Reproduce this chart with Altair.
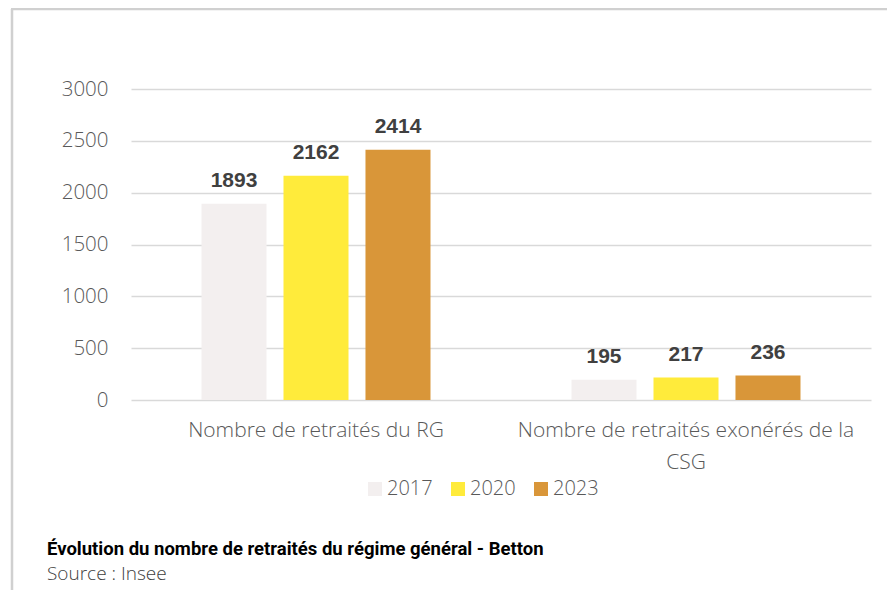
import altair as alt
import pandas as pd

categories = ["Nombre de retraités du RG", "Nombre de retraités exonérés de la CSG"]
years = ["2017", "2020", "2023"]
values_2017 = [1893, 195]
values_2020 = [2162, 217]
values_2023 = [2414, 236]
colors = ["#F3EFEF", "#FFEB3B", "#D99639"]
y_ticks = [0, 500, 1000, 1500, 2000, 2500, 3000]
title_text = ["Évolution du nombre de retraités du régime général - Betton"]
source_text = ["Source : Insee"]

rows = []
for yr, vals in zip(years, [values_2017, values_2020, values_2023]):
    for c, v in zip(categories, vals):
        rows.append({"cat": c, "year": yr, "value": v})
df = pd.DataFrame(rows)

label_font = "Open Sans"
label_color = "#595959"

x_enc = alt.X(
    "cat:N", sort=categories,
    scale=alt.Scale(paddingInner=0, paddingOuter=0),
    axis=alt.Axis(
        title=None, labelAngle=0, ticks=False, domain=False,
        labelFont=label_font, labelFontSize=21, labelFontWeight=300,
        labelColor=label_color, labelPadding=19, labelLineHeight=32,
        labelLimit=600, labelBaseline="top",
        labelExpr="datum.value == 'Nombre de retraités exonérés de la CSG' ? ['Nombre de retraités exonérés de la', 'CSG'] : datum.value",
    ),
)
y_enc = alt.Y(
    "value:Q",
    scale=alt.Scale(domain=[0, 3000], nice=False),
    axis=alt.Axis(
        title=None, values=y_ticks, ticks=False, domain=False, format="d",
        gridColor="#D9D9D9", gridWidth=1.5,
        labelFont=label_font, labelFontSize=20.5, labelFontWeight=300,
        labelColor=label_color, labelPadding=23,
    ),
)
xoff = alt.XOffset("year:N", sort=years,
                   scale=alt.Scale(paddingInner=0.207, paddingOuter=0.86))

bars = alt.Chart(df).mark_bar().encode(
    x=x_enc, y=y_enc, xOffset=xoff,
    color=alt.Color(
        "year:N", sort=years,
        scale=alt.Scale(domain=years, range=colors),
        legend=alt.Legend(
            title=None, orient="none", legendX=234, legendY=390,
            direction="horizontal", symbolType="square", symbolSize=196,
            symbolStrokeWidth=0, labelFont=label_font, labelFontSize=20,
            labelFontWeight=300, labelColor=label_color, columnPadding=15,
            labelOffset=2,
        ),
    ),
)

texts = alt.Chart(df).mark_text(
    font="Liberation Sans", fontWeight="bold", fontSize=21,
    color="#404040", baseline="alphabetic", dy=-17,
).encode(x=x_enc, y=y_enc, xOffset=xoff, text="value:Q")

frame_df = pd.DataFrame({"a": [0]})
border_v = alt.Chart(frame_df).mark_rule(color="#D0D0D0", strokeWidth=2.5).encode(
    x=alt.value(-119), y=alt.value(-80), y2=alt.value(520))
border_h = alt.Chart(frame_df).mark_rule(color="#D0D0D0", strokeWidth=2.5).encode(
    x=alt.value(-120), x2=alt.value(770), y=alt.value(-80))

title_mark = alt.Chart(pd.DataFrame({"t": title_text})).mark_text(
    font="Roboto", fontWeight="bold", fontSize=18.5, color="#000000", align="left",
    baseline="middle").encode(x=alt.value(-84), y=alt.value(460), text="t:N")
source_mark = alt.Chart(pd.DataFrame({"t": source_text})).mark_text(
    font=label_font, fontSize=19, fontWeight=300, color="#404040", align="left",
    baseline="middle").encode(x=alt.value(-84), y=alt.value(485), text="t:N")

chart = alt.layer(border_v, border_h, bars, texts, title_mark, source_mark).properties(
    width=740, height=311,
    autosize=alt.AutoSizeParams(type="none"),
    padding={"left": 123, "top": 81, "right": 16, "bottom": 190},
).configure(background="white", view=alt.ViewConfig(stroke=None))

chart.save("out.html", embed_options={"renderer": "svg", "actions": False})
